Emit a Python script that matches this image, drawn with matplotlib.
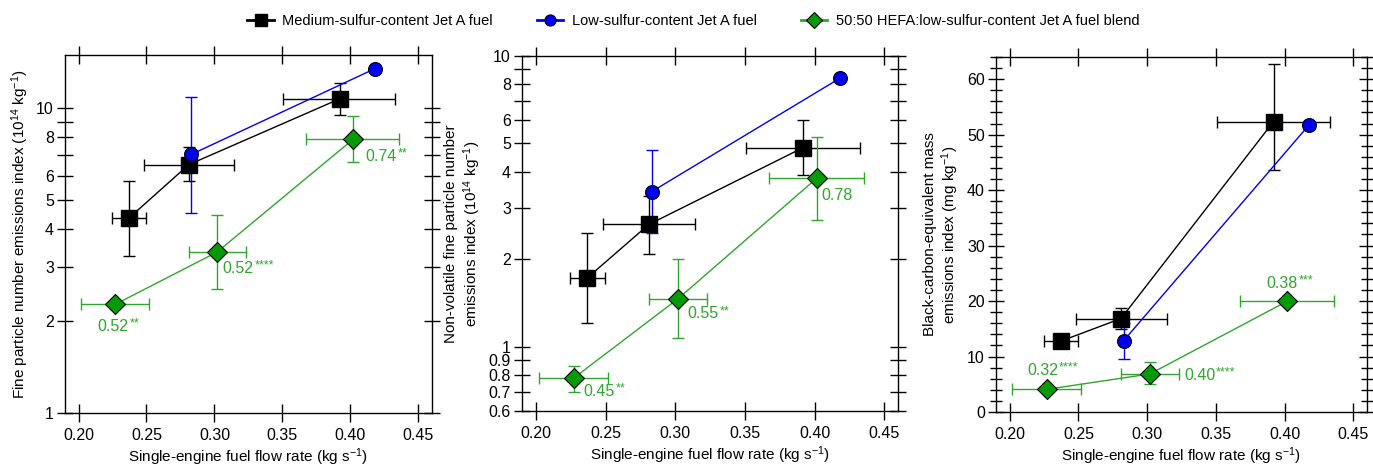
import numpy as np
import matplotlib
matplotlib.use("Agg")
import matplotlib.pyplot as plt
from matplotlib.ticker import FixedLocator, FuncFormatter, MultipleLocator
from matplotlib.lines import Line2D

plt.rcParams['font.family'] = ['Liberation Sans', 'DejaVu Sans']
plt.rcParams['mathtext.fontset'] = 'custom'
plt.rcParams['mathtext.rm'] = 'Liberation Sans'
plt.rcParams['mathtext.it'] = 'Liberation Sans:italic'

# 연료 유량 (x) - 세 패널 공통
x_med = [0.237, 0.281, 0.392]
x_low = [0.283, 0.418]
x_blend = [0.227, 0.302, 0.402]
xerr_med_lo = [0.2248, 0.2479, 0.3505]
xerr_med_hi = [0.2494, 0.3142, 0.4328]
xerr_blend_lo = [0.202, 0.281, 0.3675]
xerr_blend_hi = [0.2518, 0.323, 0.4357]

# 패널 1: fine particle number EI
p1_med = [4.35, 6.51, 10.7]
p1_med_lo = [3.27, 5.74, 9.51]
p1_med_hi = [5.77, 7.42, 12.08]
p1_low = [7.04, 13.44]
p1_low_lo = [4.54, 13.44]
p1_low_hi = [10.87, 13.44]
p1_blend = [2.27, 3.37, 7.89]
p1_blend_lo = [2.27, 2.54, 6.63]
p1_blend_hi = [2.27, 4.47, 9.37]
p1_notes = ['0.52', '0.52', '0.74']
p1_stars = ['**', '****', '**']

# 패널 2: non-volatile fine particle number EI
p2_med = [1.725, 2.63, 4.84]
p2_med_lo = [1.207, 2.08, 3.89]
p2_med_hi = [2.46, 3.30, 6.0]
p2_low = [3.41, 8.37]
p2_low_lo = [2.46, 8.37]
p2_low_hi = [4.74, 8.37]
p2_blend = [0.778, 1.46, 3.81]
p2_blend_lo = [0.70, 1.071, 2.73]
p2_blend_hi = [0.86, 2.0, 5.26]
p2_notes = ['0.45', '0.55', '0.78']
p2_stars = ['**', '**', '']

# 패널 3: black carbon mass EI
p3_med = [12.76, 16.85, 52.35]
p3_med_lo = [12.76, 14.92, 43.68]
p3_med_hi = [12.76, 18.83, 62.76]
p3_low = [12.88, 51.8]
p3_low_lo = [9.5, 51.8]
p3_low_hi = [16.0, 51.8]
p3_blend = [4.09, 6.86, 19.98]
p3_blend_lo = [4.09, 5.05, 19.98]
p3_blend_hi = [4.09, 8.97, 19.98]
p3_notes = ['0.32', '0.40', '0.38']
p3_stars = ['****', '****', '***']

GREEN_LINE = '#30a530'
GREEN_FILL = '#079a07'
BLUE = '#0000ee'

fig = plt.figure(figsize=(13.73, 4.69), dpi=100)
ax1 = fig.add_axes([0.0473, 0.1194, 0.2673, 0.7633])
ax2 = fig.add_axes([0.3802, 0.1237, 0.2739, 0.757])
ax3 = fig.add_axes([0.7254, 0.1215, 0.2702, 0.757])


def asym(v, lo, hi):
    v = np.array(v); return [v - np.array(lo), np.array(hi) - v]


def draw(ax, med, mlo, mhi, low, llo, lhi, bl, blo, bhi):
    ax.errorbar(x_med, med, yerr=asym(med, mlo, mhi), xerr=asym(x_med, xerr_med_lo, xerr_med_hi),
                fmt='none', ecolor='black', elinewidth=1, capsize=4, zorder=2)
    ax.errorbar(x_low, low, yerr=asym(low, llo, lhi), fmt='none', ecolor=BLUE,
                elinewidth=1, capsize=4, zorder=2)
    ax.errorbar(x_blend, bl, yerr=asym(bl, blo, bhi), xerr=asym(x_blend, xerr_blend_lo, xerr_blend_hi),
                fmt='none', ecolor=GREEN_LINE, elinewidth=1, capsize=4, zorder=2)
    ax.plot(x_med, med, color='black', lw=1, marker='s', ms=11, mfc='black', mec='black', zorder=3)
    ax.plot(x_low, low, color=BLUE, lw=1, marker='o', ms=10, mfc=BLUE, mec='black', mew=0.8, zorder=4)
    ax.plot(x_blend, bl, color=GREEN_LINE, lw=1, marker='D', ms=10.5, mfc=GREEN_FILL, mec='black',
            mew=0.8, zorder=3)


def notes(ax, texts, stars, pos):
    # 숫자(오른쪽 끝 기준) + 작은 위첨자 별표
    for t, s, (x, y) in zip(texts, stars, pos):
        ann = ax.annotate(t, (x, y), color=GREEN_LINE, fontsize=11.5, ha='right', va='center')
        if s:
            ax.annotate(s, xy=(1, 0.5), xycoords=ann, xytext=(0.5, 2), textcoords='offset points',
                        color=GREEN_LINE, fontsize=9, ha='left', va='center')


def style(ax):
    ax.set_xlim(0.19, 0.46)
    ax.xaxis.set_major_locator(FixedLocator([0.20, 0.25, 0.30, 0.35, 0.40, 0.45]))
    ax.xaxis.set_major_formatter(FuncFormatter(lambda v, p: f'{v:.2f}'))
    ax.tick_params(which='both', direction='inout', top=True, right=True, labelsize=11.5, width=1)
    ax.tick_params(axis='x', which='major', length=13, pad=4)
    ax.tick_params(axis='y', which='major', length=12, pad=2)
    ax.tick_params(axis='y', which='minor', length=8)
    for s in ax.spines.values():
        s.set_linewidth(1)
    ax.set_xlabel('Single-engine fuel flow rate (kg s$^{-1}$)', fontsize=11, labelpad=3)


def log_ticks(ax, ticks, labelled):
    ax.yaxis.set_major_locator(FixedLocator(ticks))
    ax.yaxis.set_minor_locator(FixedLocator([]))
    ax.yaxis.set_major_formatter(FuncFormatter(
        lambda v, p: (f'{v:g}' if any(abs(v - t) < 1e-9 for t in labelled) else '')))


# 패널 1
draw(ax1, p1_med, p1_med_lo, p1_med_hi, p1_low, p1_low_lo, p1_low_hi, p1_blend, p1_blend_lo, p1_blend_hi)
ax1.set_yscale('log')
ax1.set_ylim(1, 14.9)
style(ax1)
log_ticks(ax1, [1, 2, 3, 4, 5, 6, 7, 8, 9, 10], [1, 2, 3, 4, 5, 6, 8, 10])
ax1.set_ylabel('Fine particle number emissions index (10$^{14}$ kg$^{-1}$)', fontsize=11, labelpad=4)
notes(ax1, p1_notes, p1_stars, [(0.2368, 1.92), (0.3289, 2.98), (0.434, 6.94)])

# 패널 2
draw(ax2, p2_med, p2_med_lo, p2_med_hi, p2_low, p2_low_lo, p2_low_hi, p2_blend, p2_blend_lo, p2_blend_hi)
ax2.set_yscale('log')
ax2.set_ylim(0.6, 10)
style(ax2)
log_ticks(ax2, [0.6, 0.7, 0.8, 0.9, 1, 2, 3, 4, 5, 6, 7, 8, 9, 10],
          [0.6, 0.7, 0.8, 0.9, 1, 2, 3, 4, 5, 6, 8, 10])
ax2.set_ylabel('Non-volatile fine particle number\nemissions index (10$^{14}$ kg$^{-1}$)',
               fontsize=11, labelpad=4)
notes(ax2, p2_notes, p2_stars, [(0.2566, 0.70), (0.3313, 1.296), (0.4272, 3.30)])

# 패널 3
draw(ax3, p3_med, p3_med_lo, p3_med_hi, p3_low, p3_low_lo, p3_low_hi, p3_blend, p3_blend_lo, p3_blend_hi)
ax3.set_ylim(0, 64)
style(ax3)
ax3.yaxis.set_major_locator(MultipleLocator(10))
ax3.yaxis.set_minor_locator(MultipleLocator(2))
ax3.set_ylabel('Black-carbon-equivalent mass\nemissions index (mg kg$^{-1}$)', fontsize=11, labelpad=4)
notes(ax3, p3_notes, p3_stars, [(0.2353, 7.52), (0.3496, 6.6), (0.4099, 23.2)])

# 범례
handles = [
    Line2D([], [], color='black', lw=2, marker='s', ms=9, mfc='black', mec='black'),
    Line2D([], [], color=BLUE, lw=2, marker='o', ms=8, mfc=BLUE, mec='black', mew=0.8),
    Line2D([], [], color=GREEN_LINE, lw=2, marker='D', ms=8.5, mfc=GREEN_FILL, mec='black', mew=0.8),
]
labels = ['Medium-sulfur-content Jet A fuel', 'Low-sulfur-content Jet A fuel',
          '50:50 HEFA:low-sulfur-content Jet A fuel blend']
fig.legend(handles, labels, loc='center', bbox_to_anchor=(0.505, 0.955), ncol=3, frameon=False,
           fontsize=10.5, handlelength=1.8, columnspacing=3.0, handletextpad=0.6)

fig.savefig('out.png', dpi=100)
